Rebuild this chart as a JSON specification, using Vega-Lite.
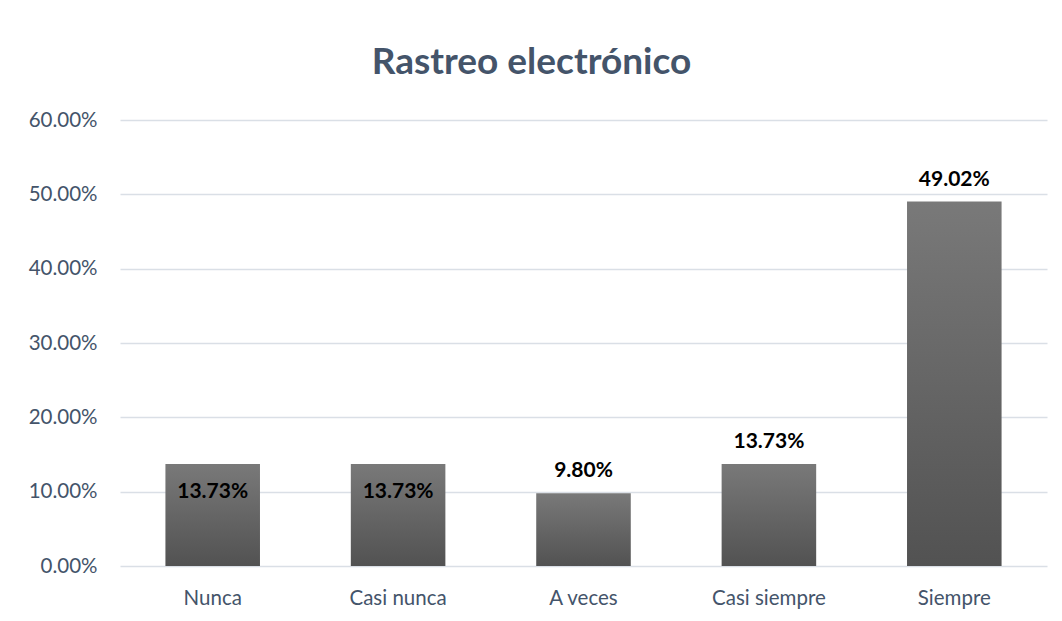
{
  "$schema": "https://vega.github.io/schema/vega-lite/v6.json",
  "width": 927,
  "height": 446,
  "autosize": {"type": "none"},
  "padding": {"left": 120, "top": 120, "right": 15, "bottom": 55},
  "background": "white",
  "config": {"view": {"stroke": null}, "font": "Lato"},
  "title": {"text": "Rastreo electrónico", "fontSize": 37, "font": "Lato", "fontWeight": "bold", "color": "#44546A", "anchor": "middle", "offset": 28, "dx": -52},
  "data": {"values": [
    {"categoria": "Nunca", "valor": 0.1373},
    {"categoria": "Casi nunca", "valor": 0.1373},
    {"categoria": "A veces", "valor": 0.098},
    {"categoria": "Casi siempre", "valor": 0.1373},
    {"categoria": "Siempre", "valor": 0.4902}
  ]},
  "encoding": {
    "x": {"field": "categoria", "type": "nominal", "sort": null,
      "scale": {"paddingInner": 0.49, "paddingOuter": 0.245},
      "axis": {"title": null, "labelAngle": 0, "labelFontSize": 20.5, "labelColor": "#44546A", "labelFont": "Lato", "domain": false, "ticks": false, "labelPadding": 22}},
    "y": {"field": "valor", "type": "quantitative",
      "scale": {"domain": [0, 0.6]},
      "axis": {"title": null, "format": ".2%", "values": [0, 0.1, 0.2, 0.3, 0.4, 0.5, 0.6], "labelOverlap": false, "labelFontSize": 20.5, "labelColor": "#44546A", "labelFont": "Lato", "domain": false, "ticks": false, "labelPadding": 23, "gridColor": "#DADFE6", "gridWidth": 1.5}}
  },
  "layer": [
    {"mark": {"type": "bar", "color": {"gradient": "linear", "x1": 0, "y1": 0, "x2": 0, "y2": 1, "stops": [{"offset": 0, "color": "#797979"}, {"offset": 1, "color": "#525252"}]}}},
    {"transform": [{"filter": "datum.categoria === 'Nunca' || datum.categoria === 'Casi nunca'"}],
     "mark": {"type": "text", "fontSize": 21, "fontWeight": "bold", "font": "Lato", "color": "#000000", "baseline": "middle", "dy": 28},
     "encoding": {"text": {"field": "valor", "format": ".2%"}}},
    {"transform": [{"filter": "datum.categoria !== 'Nunca' && datum.categoria !== 'Casi nunca'"}],
     "mark": {"type": "text", "fontSize": 21, "fontWeight": "bold", "font": "Lato", "color": "#000000", "baseline": "middle", "dy": -22},
     "encoding": {"text": {"field": "valor", "format": ".2%"}}}
  ]
}
